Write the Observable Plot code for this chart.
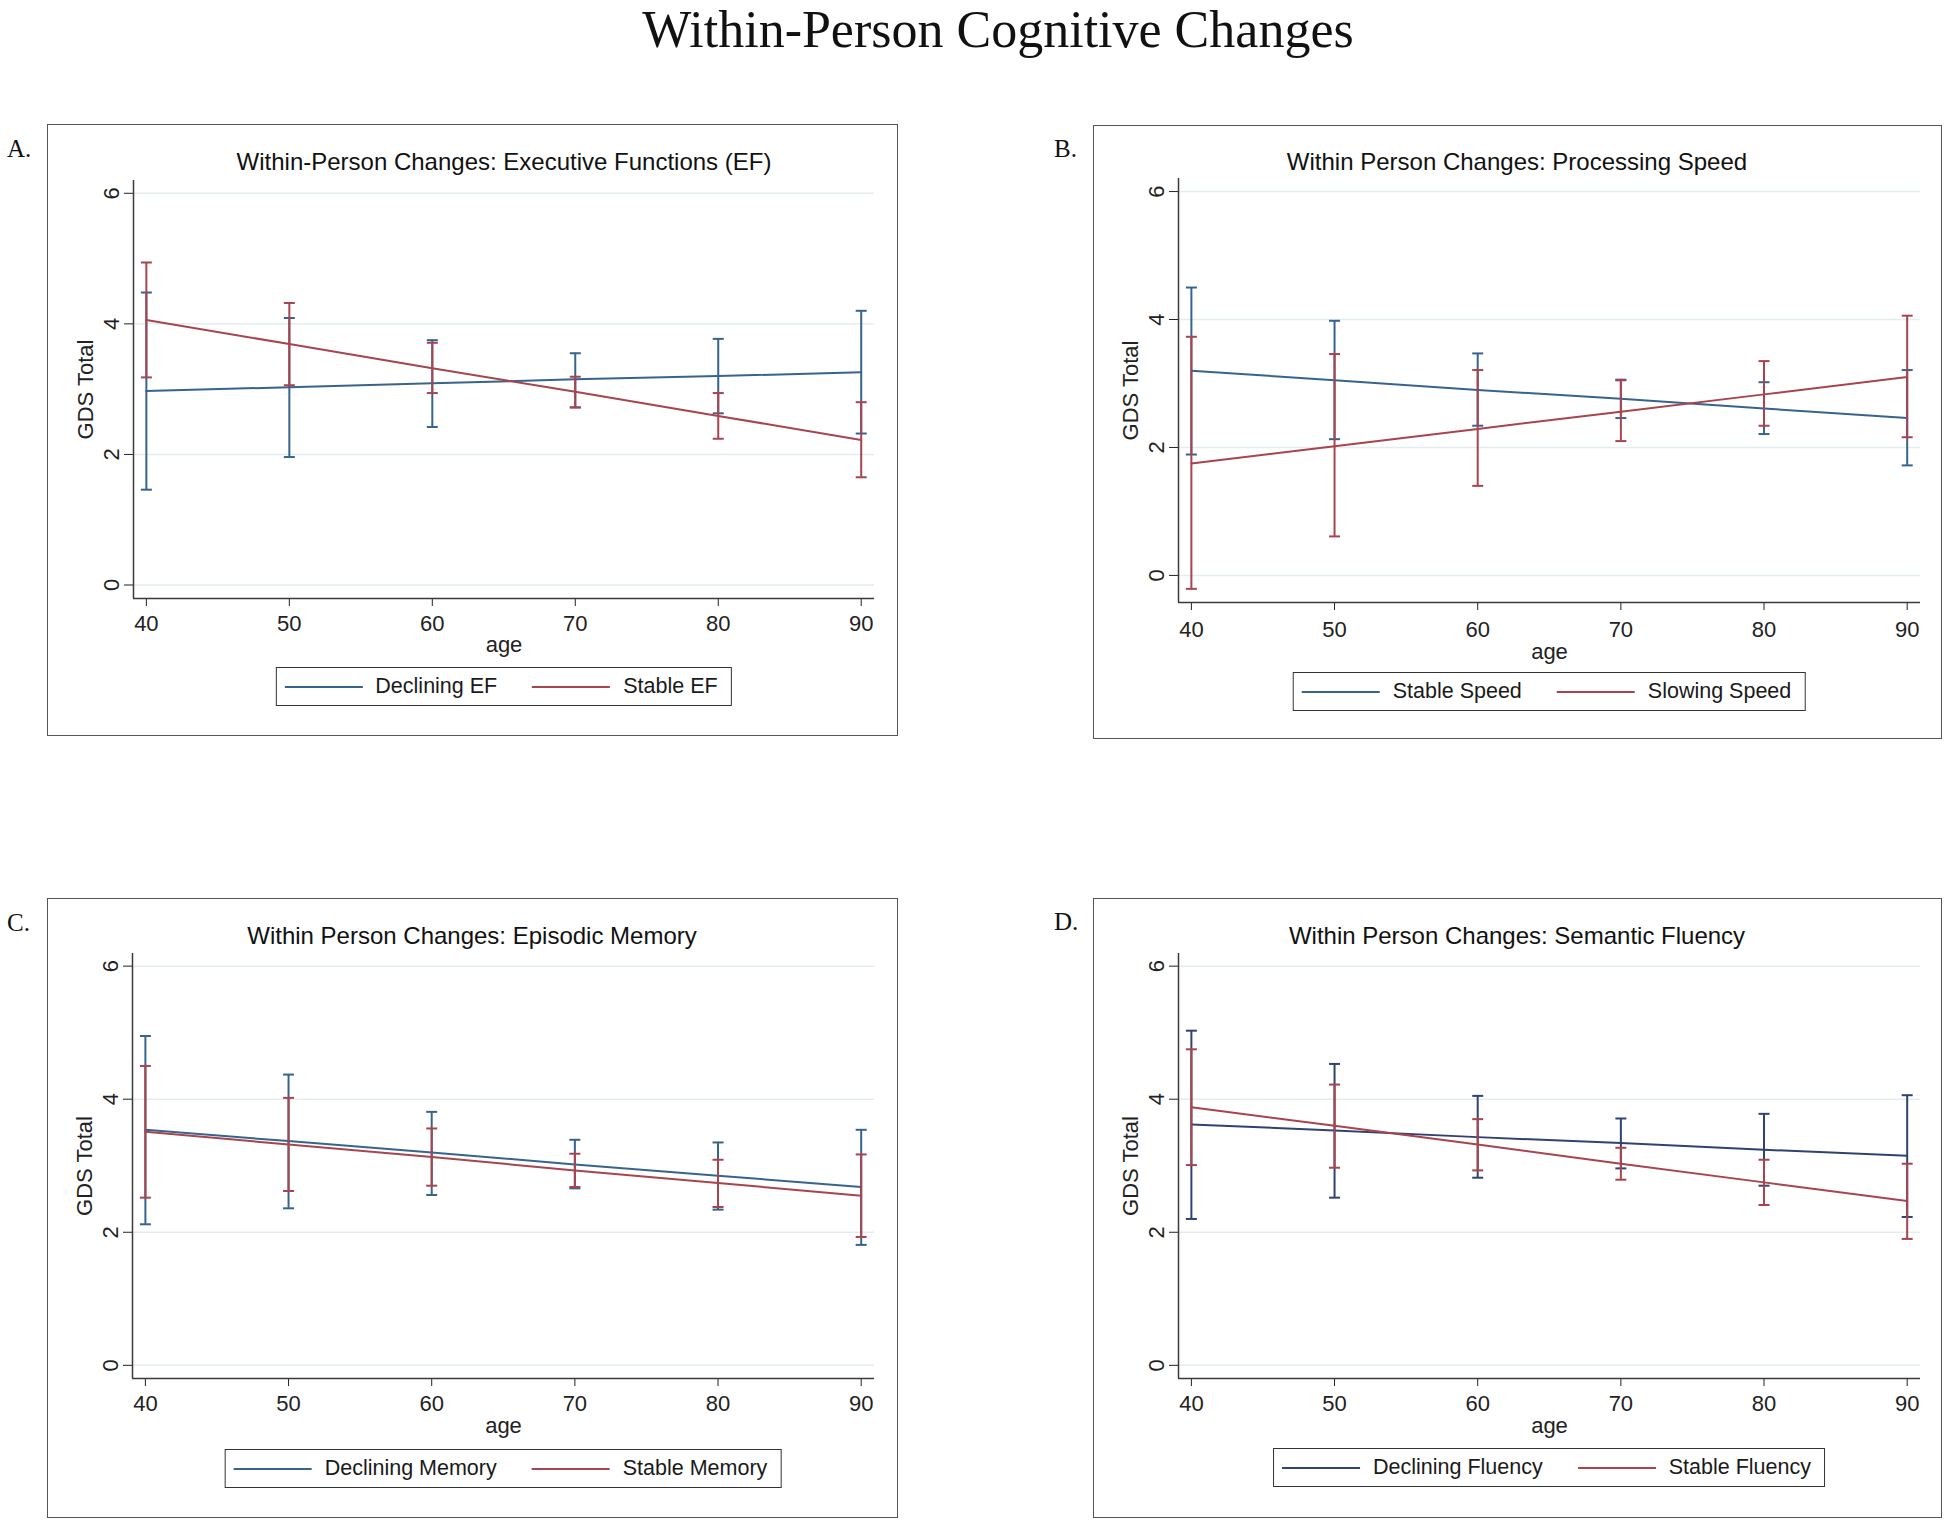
<!DOCTYPE html>
<html><head><meta charset="utf-8">
<script src="https://cdn.jsdelivr.net/npm/d3@7"></script>
<script src="https://cdn.jsdelivr.net/npm/@observablehq/plot@0.6"></script>
<style>
html,body{margin:0;padding:0;background:#fff;}
#page{position:relative;width:1950px;height:1524px;overflow:hidden;background:#fff;}
.frame{position:absolute;box-sizing:border-box;border:1.5px solid #555;pointer-events:none;}
.plotwrap{position:absolute;}
.plotwrap svg{display:block;}
.legend{position:absolute;box-sizing:border-box;border:1.5px solid #333;display:flex;align-items:center;font-family:"Liberation Sans",Arial,sans-serif;font-size:21.5px;line-height:1;color:#1a1a1a;white-space:nowrap;transform:translateX(-50%);background:#fff;padding:0 13px 0 8px;}
.swatch{display:inline-block;width:78px;height:2px;margin-right:13px;}
.item2{margin-left:35px;display:flex;align-items:center;}
.item1{display:flex;align-items:center;}
#overlay{position:absolute;left:0;top:0;pointer-events:none;}
</style></head><body><div id="page"></div>
<script>
// ---- shared axes ----
const ages = [40, 50, 60, 70, 80, 90];
const xTicks = [40, 50, 60, 70, 80, 90];
const yTicks = [0, 2, 4, 6];
const xDomain = [39.1, 90.93];
const xLabel = "age";
const yLabel = "GDS Total";
const mainTitle = "Within-Person Cognitive Changes";
const panelLetters = ["A.", "B.", "C.", "D."];

// ---- Panel A ----
const titleA = "Within-Person Changes: Executive Functions (EF)";
const legendA = ["Declining EF", "Stable EF"];
const fitA1 = [2.97, 3.03, 3.09, 3.15, 3.20, 3.26];
const loA1  = [1.46, 1.96, 2.42, 2.72, 2.63, 2.32];
const hiA1  = [4.48, 4.09, 3.75, 3.55, 3.77, 4.20];
const fitA2 = [4.06, 3.69, 3.32, 2.96, 2.59, 2.22];
const loA2  = [3.18, 3.06, 2.94, 2.72, 2.24, 1.65];
const hiA2  = [4.94, 4.32, 3.71, 3.19, 2.94, 2.80];
const yDomainA = [-0.207, 6.196];

// ---- Panel B ----
const titleB = "Within Person Changes: Processing Speed";
const legendB = ["Stable Speed", "Slowing Speed"];
const fitB1 = [3.20, 3.05, 2.90, 2.76, 2.61, 2.46];
const loB1  = [1.89, 2.13, 2.34, 2.46, 2.21, 1.72];
const hiB1  = [4.50, 3.98, 3.47, 3.06, 3.02, 3.21];
const fitB2 = [1.75, 2.02, 2.29, 2.56, 2.83, 3.10];
const loB2  = [-0.21, 0.61, 1.40, 2.10, 2.34, 2.16];
const hiB2  = [3.73, 3.46, 3.21, 3.05, 3.35, 4.06];
const yDomainB = [-0.423, 6.204];

// ---- Panel C ----
const titleC = "Within Person Changes: Episodic Memory";
const legendC = ["Declining Memory", "Stable Memory"];
const fitC1 = [3.54, 3.37, 3.20, 3.02, 2.85, 2.68];
const loC1  = [2.12, 2.36, 2.56, 2.66, 2.34, 1.81];
const hiC1  = [4.95, 4.37, 3.81, 3.39, 3.35, 3.54];
const fitC2 = [3.51, 3.32, 3.13, 2.93, 2.74, 2.55];
const loC2  = [2.52, 2.62, 2.70, 2.68, 2.38, 1.93];
const hiC2  = [4.50, 4.02, 3.56, 3.18, 3.09, 3.17];
const yDomainC = [-0.198, 6.19];

// ---- Panel D ----
const titleD = "Within Person Changes: Semantic Fluency";
const legendD = ["Declining Fluency", "Stable Fluency"];
const fitD1 = [3.62, 3.53, 3.43, 3.34, 3.24, 3.15];
const loD1  = [2.20, 2.52, 2.82, 2.96, 2.70, 2.23];
const hiD1  = [5.03, 4.53, 4.05, 3.71, 3.78, 4.06];
const fitD2 = [3.88, 3.60, 3.32, 3.03, 2.75, 2.47];
const loD2  = [3.01, 2.97, 2.93, 2.79, 2.41, 1.90];
const hiD2  = [4.75, 4.22, 3.70, 3.27, 3.09, 3.03];
const yDomainD = [-0.198, 6.19];

// ---- styles ----
const blue = "#36648f";
const navy = "#2f4271";
const red = "#a8444d";
const gridColor = "#e3edf0";
const axisColor = "#3a3a3a";

// ---- layout (page pixels) ----
const layouts = [
  {fx: 47,   fy: 124, fw: 851, fh: 612, mL: 86, mR: 24, mT: 56, mB: 138, tickPad: 9,  xLab: 53, titleX: 504,  titleY: 170,   legY: 667,  letX: 7,    letY: 157},
  {fx: 1093, fy: 125, fw: 849, fh: 614, mL: 85, mR: 22, mT: 53, mB: 137, tickPad: 11, xLab: 56, titleX: 1517, titleY: 169.5, legY: 672,  letX: 1054, letY: 156.5},
  {fx: 47,   fy: 898, fw: 851, fh: 620, mL: 85, mR: 24, mT: 55, mB: 140, tickPad: 9,  xLab: 54, titleX: 472,  titleY: 944,   legY: 1449, letX: 7,    letY: 931},
  {fx: 1093, fy: 898, fw: 849, fh: 620, mL: 85, mR: 22, mT: 55, mB: 140, tickPad: 9,  xLab: 54, titleX: 1517, titleY: 944,   legY: 1448, letX: 1054, letY: 930}
];

const panels = [
  {title: titleA, legend: legendA, yDomain: yDomainA, series: [
    {fit: fitA1, lo: loA1, hi: hiA1, color: blue}, {fit: fitA2, lo: loA2, hi: hiA2, color: red}]},
  {title: titleB, legend: legendB, yDomain: yDomainB, series: [
    {fit: fitB1, lo: loB1, hi: hiB1, color: blue}, {fit: fitB2, lo: loB2, hi: hiB2, color: red}]},
  {title: titleC, legend: legendC, yDomain: yDomainC, series: [
    {fit: fitC1, lo: loC1, hi: hiC1, color: blue}, {fit: fitC2, lo: loC2, hi: hiC2, color: red}]},
  {title: titleD, legend: legendD, yDomain: yDomainD, series: [
    {fit: fitD1, lo: loD1, hi: hiD1, color: navy}, {fit: fitD2, lo: loD2, hi: hiD2, color: red}]}
];

// horizontal cap symbol for error bars
const capSymbol = {
  draw(ctx, size) {
    const r = Math.sqrt(size / Math.PI);
    ctx.moveTo(-r, 0);
    ctx.lineTo(r, 0);
  }
};

const page = document.getElementById("page");

function drawPanel(p, L) {
  const marks = [
    Plot.ruleY(yTicks, {stroke: gridColor, strokeWidth: 1.5}),
    Plot.ruleX([xDomain[0]], {stroke: axisColor, strokeWidth: 1.5}),
    Plot.ruleY([p.yDomain[0]], {stroke: axisColor, strokeWidth: 1.5})
  ];
  p.series.forEach(s => {
    const d = ages.map((a, i) => ({age: a, fit: s.fit[i], lo: s.lo[i], hi: s.hi[i]}));
    marks.push(Plot.line(d, {x: "age", y: "fit", stroke: s.color, strokeWidth: 2}));
    marks.push(Plot.ruleX(d, {x: "age", y1: "lo", y2: "hi", stroke: s.color, strokeWidth: 2}));
    marks.push(Plot.dot(d, {x: "age", y: "lo", symbol: capSymbol, r: 5.5, stroke: s.color, strokeWidth: 2, fill: "none"}));
    marks.push(Plot.dot(d, {x: "age", y: "hi", symbol: capSymbol, r: 5.5, stroke: s.color, strokeWidth: 2, fill: "none"}));
  });
  const svg = Plot.plot({
    width: L.fw, height: L.fh,
    marginLeft: L.mL, marginRight: L.mR, marginTop: L.mT, marginBottom: L.mB,
    x: {domain: xDomain, ticks: xTicks, tickSize: 8, tickPadding: L.tickPad, tickFormat: d => String(d),
        label: xLabel, labelAnchor: "center", labelOffset: L.xLab, labelArrow: "none"},
    y: {domain: p.yDomain, ticks: yTicks, tickSize: 9, tickPadding: 6, tickRotate: -90, tickFormat: d => String(d),
        label: yLabel, labelAnchor: "center", labelOffset: 56, labelArrow: "none"},
    style: {fontFamily: '"Liberation Sans", Arial, sans-serif', fontSize: "22px", color: "#222", background: "transparent", overflow: "visible"},
    marks
  });
  const wrap = document.createElement("div");
  wrap.className = "plotwrap";
  wrap.style.left = L.fx + "px";
  wrap.style.top = L.fy + "px";
  wrap.style.width = L.fw + "px";
  wrap.style.height = L.fh + "px";
  wrap.appendChild(svg);
  page.appendChild(wrap);

  const frame = document.createElement("div");
  frame.className = "frame";
  frame.style.left = L.fx + "px";
  frame.style.top = L.fy + "px";
  frame.style.width = L.fw + "px";
  frame.style.height = L.fh + "px";
  page.appendChild(frame);

  const leg = document.createElement("div");
  leg.className = "legend";
  leg.style.left = (L.fx + L.mL + (L.fw - L.mL - L.mR) / 2) + "px";
  leg.style.top = L.legY + "px";
  leg.style.height = "39px";
  p.legend.forEach((name, i) => {
    const item = document.createElement("div");
    item.className = i === 0 ? "item1" : "item2";
    const sw = document.createElement("span");
    sw.className = "swatch";
    sw.style.background = p.series[i].color;
    const tx = document.createElement("span");
    tx.textContent = name;
    item.appendChild(sw);
    item.appendChild(tx);
    leg.appendChild(item);
  });
  page.appendChild(leg);
}

panels.forEach((p, i) => drawPanel(p, layouts[i]));

// text overlay: main title, panel letters, panel titles
const ns = "http://www.w3.org/2000/svg";
const ov = document.createElementNS(ns, "svg");
ov.setAttribute("id", "overlay");
ov.setAttribute("width", 1950);
ov.setAttribute("height", 1524);
function addText(str, x, y, size, family, anchor) {
  const t = document.createElementNS(ns, "text");
  t.setAttribute("x", x);
  t.setAttribute("y", y);
  t.setAttribute("font-size", size);
  t.setAttribute("font-family", family);
  t.setAttribute("text-anchor", anchor);
  t.setAttribute("fill", "#111");
  t.textContent = str;
  ov.appendChild(t);
}
const serif = '"Liberation Serif", "Times New Roman", serif';
const sans = '"Liberation Sans", Arial, sans-serif';
addText(mainTitle, 998, 47, 52, serif, "middle");
panels.forEach((p, i) => {
  const L = layouts[i];
  addText(panelLetters[i], L.letX, L.letY, 25, serif, "start");
  addText(p.title, L.titleX, L.titleY, 24, sans, "middle");
});
page.appendChild(ov);
</script>
</body></html>
